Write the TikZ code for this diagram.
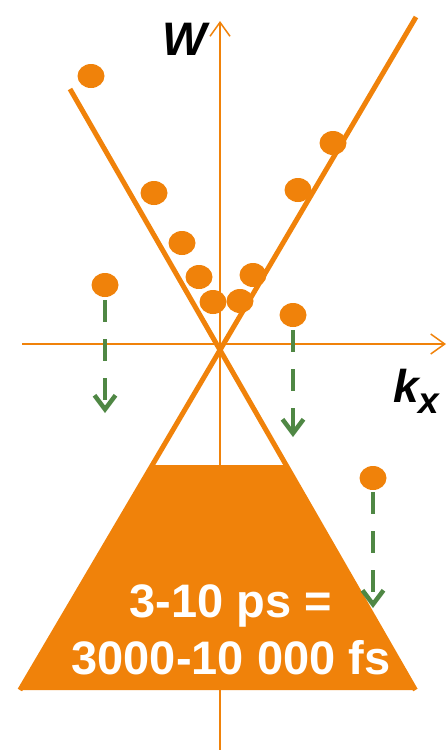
\documentclass[tikz,border=0pt]{standalone}
\usepackage{fontspec}
\setmainfont{Liberation Sans}
\usetikzlibrary{arrows.meta,shapes.geometric}
\definecolor{peak}{HTML}{F0820A}
\definecolor{decay}{HTML}{4F8744}

\begin{document}
\begin{tikzpicture}[x=1pt, y=-1pt, axis/.style={draw=peak, line width=1.5pt, -{Straight Barb[length=14pt, width=20pt]}}, branch/.style={draw=peak, line width=5pt}, dot/.style={ellipse, fill=peak, minimum width=27pt, minimum height=24pt, inner sep=0pt}, drop/.style={draw=decay, line width=4.5pt, dash pattern=on 22pt off 17pt, -{Straight Barb[length=14pt, width=21pt]}}]
\useasboundingbox (0,0) rectangle (447,750);
% axes
\coordinate (yb) at (220,750);
\coordinate (yt) at (220,21);
\coordinate (xl) at (22,344);
\coordinate (xr) at (446,344);
\draw[axis] (yb) -- (yt);
\draw[axis] (xl) -- (xr);
% dispersion branches
\coordinate (b1) at (70,89);
\coordinate (b2) at (415.4,690);
\coordinate (b3) at (416,17);
\coordinate (b4) at (19.9,690);
\draw[branch] (b1) -- (b2);
\draw[branch] (b3) -- (b4);
\fill[peak] (152.3,465) -- (286.1,465) -- (b2) -- (b4) -- cycle;
% carriers
\node[dot] (d1) at (91,76) {};
\node[dot] (d2) at (154,193) {};
\node[dot] (d3) at (182,243) {};
\node[dot] (d4) at (199,277) {};
\node[dot] (d5) at (213,302) {};
\node[dot] (d6) at (240,301) {};
\node[dot] (d7) at (253,275) {};
\node[dot] (d8) at (298,190) {};
\node[dot] (d9) at (333,143) {};
\node[dot] (d10) at (105,285) {};
\node[dot] (d11) at (293,315) {};
\node[dot] (d12) at (373,478) {};
% relaxation
\coordinate (e1) at (105,413);
\coordinate (e2) at (293,437);
\coordinate (e3) at (373,608);
\draw[drop] ([yshift=-3pt]d10.south) -- (e1);
\draw[drop] ([yshift=-3pt]d11.south) -- (e2);
\draw[drop] ([yshift=-2pt]d12.south) -- (e3);
% labels
\node[anchor=base, inner sep=0pt, font=\fontsize{47}{47}\selectfont\bfseries\itshape] (lw) at (185,55) {W};
\node[anchor=base west, inner sep=0pt, font=\fontsize{46}{46}\selectfont\bfseries\itshape] (lk) at (393,402) {k\raisebox{-11pt}{\fontsize{37}{37}\selectfont x}};
\node[align=center, inner sep=0pt, text=white, font=\fontsize{47}{57}\selectfont\bfseries] (lt) at (231,630) {3-10 ps =\\3000-10 000 fs};
\end{tikzpicture}
\end{document}
